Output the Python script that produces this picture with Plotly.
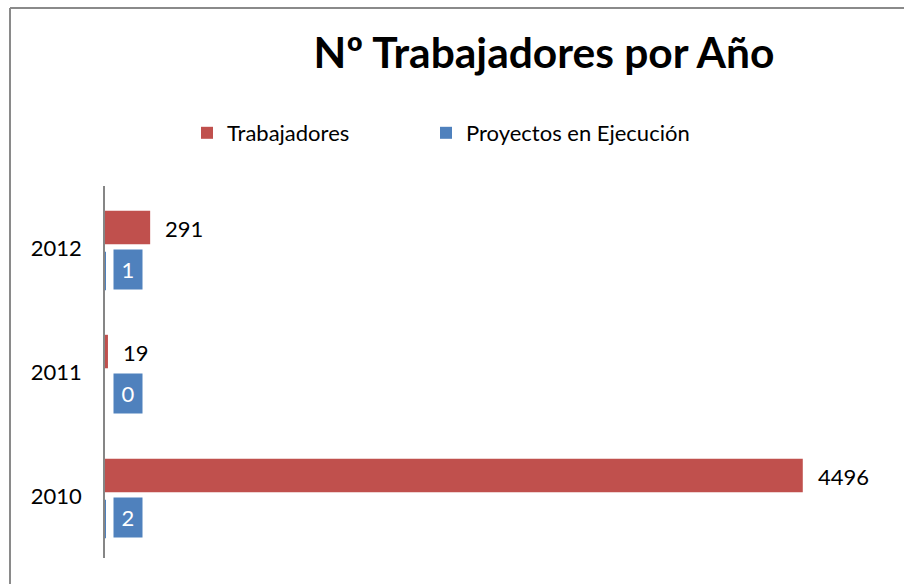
import plotly.graph_objects as go

years = ["2010", "2011", "2012"]
trabajadores = [4496, 19, 291]
proyectos = [2, 0, 1]

RED = "#C0504D"
BLUE = "#4F81BD"
FONT = "Lato"

fig = go.Figure()
fig.add_trace(go.Bar(
    y=years, x=trabajadores, orientation="h", name="Trabajadores",
    marker=dict(color=RED, line=dict(width=0)),
    width=0.27, offset=0.03, legend="legend",
))
fig.add_trace(go.Bar(
    y=years, x=proyectos, orientation="h", name="Proyectos en Ejecución",
    marker=dict(color=BLUE, line=dict(width=0)),
    width=0.31, offset=-0.34, legend="legend2",
))

annotations = []
# on a category axis, annotation positions are given as the category's index
for i, v in enumerate(trabajadores):
    annotations.append(dict(
        x=v, y=i, xref="x", yref="y", text=str(v), showarrow=False,
        xanchor="left", xshift=13, yshift=20,
        font=dict(family=FONT, size=22, color="#000000"),
    ))
for i, v in enumerate(proyectos):
    annotations.append(dict(
        x=0, y=i, xref="x", yref="y", text=str(v), showarrow=False,
        xanchor="left", xshift=8, yshift=-21.5,
        width=26, height=37, borderpad=1, bgcolor=BLUE,
        font=dict(family=FONT, size=22, color="#FFFFFF"),
    ))

legend_common = dict(orientation="h", xanchor="left", yanchor="middle",
                     y=(558 - 133) / 372, bgcolor="rgba(0,0,0,0)",
                     font=dict(family=FONT, size=22, color="#000000"))

fig.update_layout(
    width=904, height=584, autosize=False,
    margin=dict(l=105, r=23, t=186, b=26, autoexpand=False),
    paper_bgcolor="white", plot_bgcolor="white",
    font=dict(family=FONT, size=22, color="#000000"),
    title=dict(text="<b>Nº Trabajadores por Año</b>", x=544/904, xanchor="center",
               y=1 - 53/584, yanchor="middle",
               font=dict(family=FONT, size=42.5, color="#000000")),
    legend=dict(x=(187 - 105) / 776, **legend_common),
    legend2=dict(x=(426 - 105) / 776, **legend_common),
    barmode="overlay",
    showlegend=True,
    annotations=annotations,
    shapes=[
        dict(type="line", xref="paper", yref="paper",
             x0=(10 - 105) / 776, x1=(10 - 105) / 776,
             y0=(558 - 8) / 372, y1=(558 - 600) / 372,
             line=dict(color="#8a8a8a", width=2)),
        dict(type="line", xref="paper", yref="paper",
             x0=(10 - 105) / 776, x1=(920 - 105) / 776,
             y0=(558 - 8) / 372, y1=(558 - 8) / 372,
             line=dict(color="#8a8a8a", width=2)),
    ],
)
fig.update_xaxes(range=[0, 5000], showticklabels=False, showline=False,
                 showgrid=False, zeroline=False, ticks="")
fig.update_yaxes(type="category", categoryorder="array", categoryarray=years,
                 range=[-0.5, 2.5], layer="above traces",
                 showline=True, linecolor="#868686", linewidth=2,
                 showgrid=False, zeroline=False, ticks="",
                 ticksuffix="   ",
                 tickfont=dict(family=FONT, size=22, color="#000000"))

fig.write_html("out.html", config={"displayModeBar": False},
               post_script="document.body.style.margin='0';")
